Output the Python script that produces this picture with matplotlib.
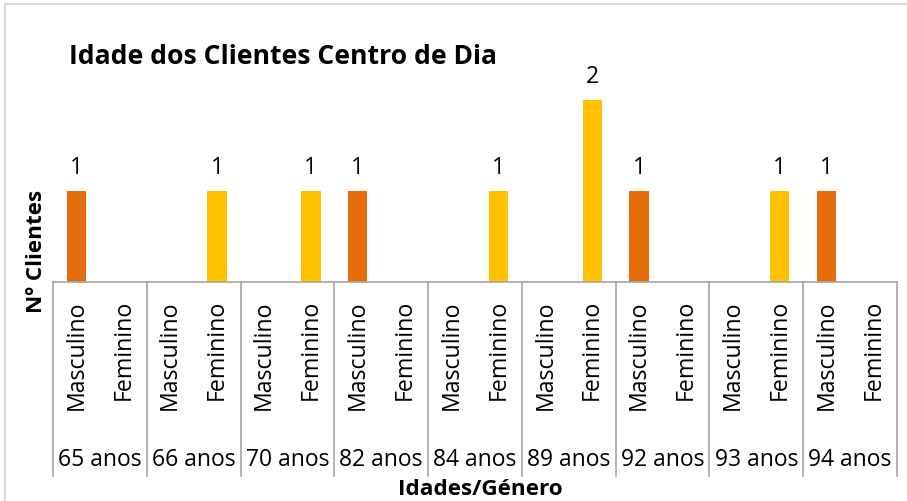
import matplotlib.pyplot as plt
from matplotlib.patches import Rectangle

plt.rcParams['font.family'] = ['Open Sans', 'DejaVu Sans']

# Data
ages = ["65 anos", "66 anos", "70 anos", "82 anos", "84 anos",
        "89 anos", "92 anos", "93 anos", "94 anos"]
genders = ["Masculino", "Feminino"]
masculino = [1, 0, 0, 1, 0, 0, 1, 0, 1]
feminino = [0, 1, 1, 0, 1, 2, 0, 1, 0]

c_masc = '#E46C0A'
c_fem = '#FFC000'

W, H = 907, 502
fig = plt.figure(figsize=(W / 100, H / 100), dpi=100)

# plot area in pixels
left, right, base, top = 53, 897, 283, 55
ax = fig.add_axes([left / W, (H - base) / H, (right - left) / W, (base - top) / H])
ah = base - top

values, colors, labels = [], [], []
for m, f in zip(masculino, feminino):
    values += [m, f]
    colors += [c_masc, c_fem]
    labels += genders
xs = list(range(len(values)))

ax.bar(xs, values, width=0.41, color=colors)
ax.set_xlim(-0.5, len(values) - 0.5)
ax.set_ylim(0, ah / 91)

for x, v in zip(xs, values):
    if v > 0:
        ax.annotate(str(v), (x, v), xytext=(0, 12), textcoords='offset pixels',
                    ha='center', va='bottom', fontsize=16.5)

for s in ['top', 'right', 'left']:
    ax.spines[s].set_visible(False)
ax.spines['bottom'].set_color('#A6A6A6')
ax.spines['bottom'].set_linewidth(1.2)
ax.set_yticks([])
ax.set_xticks([])

tr = ax.get_xaxis_transform()
def ya(py):
    return (base - py) / ah

# group separators
for k in range(len(ages) + 1):
    ax.plot([-0.5 + 2 * k] * 2, [0, ya(477)], color='#A6A6A6', lw=1.2,
            transform=tr, clip_on=False)

for x, lab in zip(xs, labels):
    ax.text(x, ya(300), lab, rotation=90, ha='center', va='top',
            fontsize=16.7, transform=tr)

for k, a in enumerate(ages):
    ax.text(2 * k + 0.5, ya(460), a, ha='center', va='center',
            fontsize=16.5, transform=tr)

fig.text(480 / W, 1 - 490 / H, "Idades/Género", ha='center', va='center',
         fontsize=16.2, fontweight='bold')
fig.text(36 / W, 1 - 251 / H, "Nº Clientes", rotation=90, ha='center',
         va='center', fontsize=16.2, fontweight='bold')
fig.text(69 / W, 1 - 57 / H, "Idade dos Clientes Centro de Dia",
         ha='left', va='center', fontsize=19.1, fontweight='bold')

# chart border
fig.patches.append(Rectangle((5 / W, -0.1), 1.1, 1 - 5 / H + 0.1,
                             transform=fig.transFigure, fill=False,
                             edgecolor='#D9D9D9', lw=1.5))

fig.savefig('out.png', dpi=100)
